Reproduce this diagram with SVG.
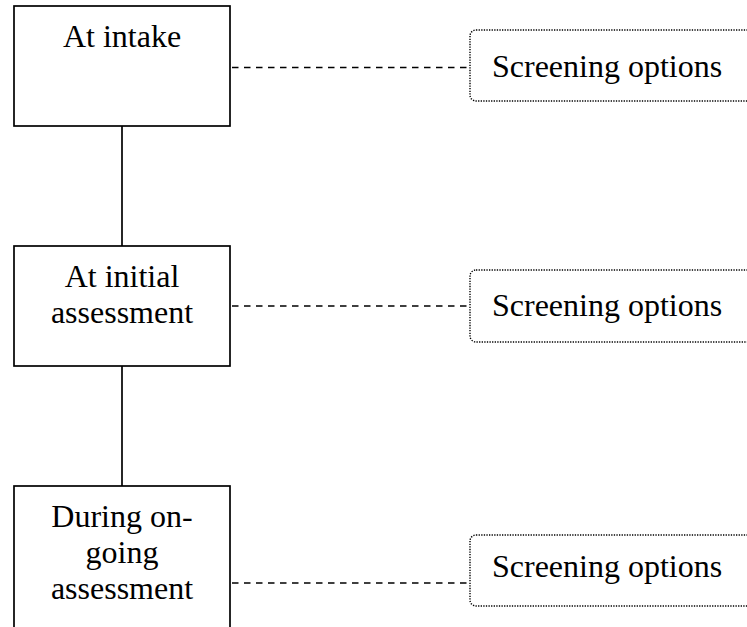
<svg xmlns="http://www.w3.org/2000/svg" width="747" height="627" viewBox="0 0 747 627">
<style>
.box{fill:#fff;stroke:#000;stroke-width:1.7}
.opt{fill:#fff;stroke:#000;stroke-width:1.4;stroke-dasharray:1.3 1.3}
.t{font-family:"Liberation Serif","Times New Roman",serif;font-size:32px;fill:#000}
.c{text-anchor:middle}
.solid{stroke:#000;stroke-width:1.7;fill:none}
.dash{stroke:#000;stroke-width:1.6;stroke-dasharray:6.5 5.5;fill:none}
</style>
<rect width="747" height="627" fill="#fff"/>
<g id="connectors">
<line class="solid" x1="122" y1="126" x2="122" y2="246"/>
<line class="solid" x1="122" y1="366" x2="122" y2="486"/>
<line class="dash" x1="232" y1="67.5" x2="469" y2="67.5"/>
<line class="dash" x1="232" y1="306" x2="469" y2="306"/>
<line class="dash" x1="232" y1="583" x2="469" y2="583"/>
</g>
<g id="intake">
<rect class="box" x="14" y="6" width="216" height="120"/>
<text class="t c" x="122" y="47">At intake</text>
</g>
<g id="initial">
<rect class="box" x="14" y="246" width="216" height="120"/>
<text class="t c" x="122" y="287">At initial</text>
<text class="t c" x="122" y="323">assessment</text>
</g>
<g id="ongoing">
<rect class="box" x="14" y="486" width="216" height="160"/>
<text class="t c" x="122" y="527">During on-</text>
<text class="t c" x="122" y="563">going</text>
<text class="t c" x="122" y="599">assessment</text>
</g>
<g id="opt1">
<rect class="opt" x="470" y="30" width="300" height="71" rx="6"/>
<text class="t" x="492" y="77">Screening options</text>
</g>
<g id="opt2">
<rect class="opt" x="470" y="270" width="300" height="72" rx="6"/>
<text class="t" x="492" y="316">Screening options</text>
</g>
<g id="opt3">
<rect class="opt" x="470" y="535" width="300" height="71" rx="6"/>
<text class="t" x="492" y="577">Screening options</text>
</g>
</svg>
